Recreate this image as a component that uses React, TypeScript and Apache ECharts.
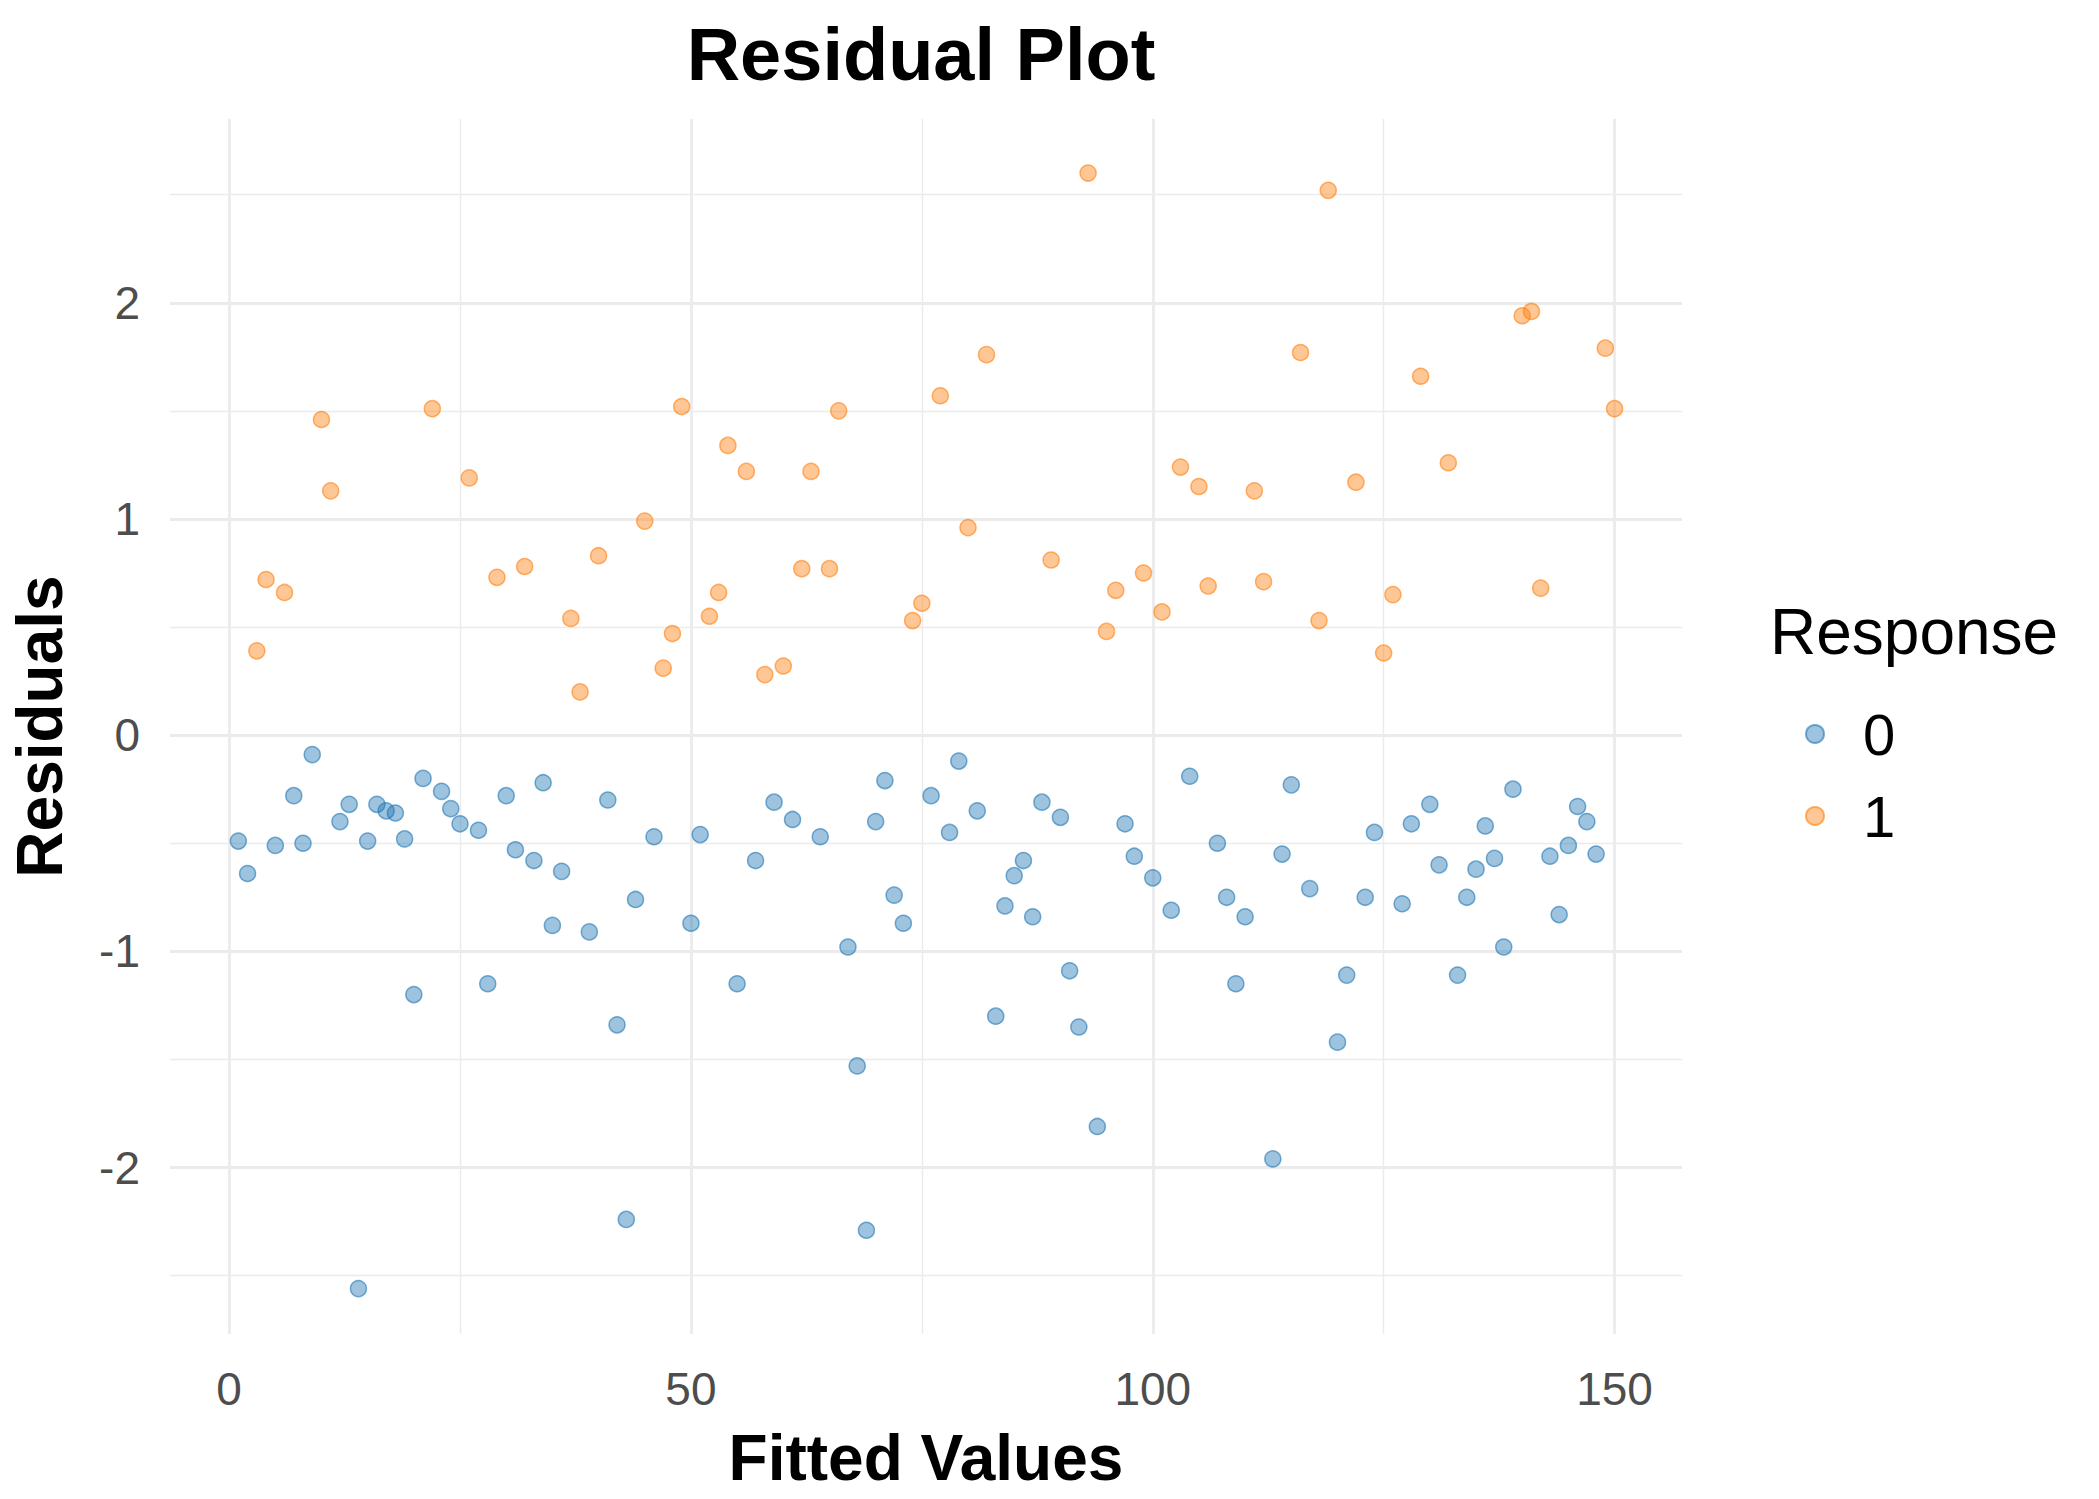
import * as echarts from "echarts";
import { useEffect, useRef } from "react";

// fitted value index 1..150 and its residual; response = 1 when residual > 0
const residuals: number[] = [
  -0.49, -0.64, 0.39, 0.72, -0.51, 0.66, -0.28, -0.5, -0.09, 1.46,
  1.13, -0.4, -0.32, -2.56, -0.49, -0.32, -0.35, -0.36, -0.48, -1.2,
  -0.2, 1.51, -0.26, -0.34, -0.41, 1.19, -0.44, -1.15, 0.73, -0.28,
  -0.53, 0.78, -0.58, -0.22, -0.88, -0.63, 0.54, 0.2, -0.91, 0.83,
  -0.3, -1.34, -2.24, -0.76, 0.99, -0.47, 0.31, 0.47, 1.52, -0.87,
  -0.46, 0.55, 0.66, 1.34, -1.15, 1.22, -0.58, 0.28, -0.31, 0.32,
  -0.39, 0.77, 1.22, -0.47, 0.77, 1.5, -0.98, -1.53, -2.29, -0.4,
  -0.21, -0.74, -0.87, 0.53, 0.61, -0.28, 1.57, -0.45, -0.12, 0.96,
  -0.35, 1.76, -1.3, -0.79, -0.65, -0.58, -0.84, -0.31, 0.81, -0.38,
  -1.09, -1.35, 2.6, -1.81, 0.48, 0.67, -0.41, -0.56, 0.75, -0.66,
  0.57, -0.81, 1.24, -0.19, 1.15, 0.69, -0.5, -0.75, -1.15, -0.84,
  1.13, 0.71, -1.96, -0.55, -0.23, 1.77, -0.71, 0.53, 2.52, -1.42,
  -1.11, 1.17, -0.75, -0.45, 0.38, 0.65, -0.78, -0.41, 1.66, -0.32,
  -0.6, 1.26, -1.11, -0.75, -0.62, -0.42, -0.57, -0.98, -0.25, 1.94,
  1.96, 0.68, -0.56, -0.83, -0.51, -0.33, -0.4, -0.55, 1.79, 1.51,
];

const xMajor = [0, 50, 100, 150];
const xMinor = [25, 75, 125];
const yMajor = [-2, -1, 0, 1, 2];
const yMinor = [-2.5, -1.5, -0.5, 0.5, 1.5, 2.5];

const FONT = "Liberation Sans";
const GRID = "#ebebeb";

export default function App() {
  const ref = useRef<HTMLDivElement>(null);

  useEffect(() => {
    if (!ref.current) return;
    const chart = echarts.init(ref.current, undefined, { renderer: "svg" });

    const pts0: number[][] = [];
    const pts1: number[][] = [];
    residuals.forEach((r, i) => (r > 0 ? pts1 : pts0).push([i + 1, r]));

    const gridLines = [
      ...xMinor.map((v) => ({ xAxis: v, lineStyle: { width: 1.4 } })),
      ...yMinor.map((v) => ({ yAxis: v, lineStyle: { width: 1.4 } })),
      ...xMajor.map((v) => ({ xAxis: v, lineStyle: { width: 2.8 } })),
      ...yMajor.map((v) => ({ yAxis: v, lineStyle: { width: 2.8 } })),
    ];

    chart.setOption({
      animation: false,
      backgroundColor: "#ffffff",
      textStyle: { fontFamily: FONT },
      title: {
        text: "Residual Plot",
        left: 916,
        top: 12,
        textAlign: "center",
        textStyle: { fontSize: 74, fontWeight: "bold", color: "#000", fontFamily: FONT },
      },
      grid: { left: 162, right: 417, top: 119, bottom: 165 },
      xAxis: {
        type: "value",
        min: -6.4,
        max: 157.3,
        name: "Fitted Values",
        nameLocation: "middle",
        nameGap: 92,
        nameTextStyle: { fontSize: 64, fontWeight: "bold", color: "#000" },
        axisLine: { show: false },
        axisTick: { show: false },
        splitLine: { show: false },
        axisLabel: {
          customValues: xMajor,
          fontSize: 46,
          color: "#4d4d4d",
          margin: 32,
        },
      },
      yAxis: {
        type: "value",
        min: -2.77,
        max: 2.85,
        name: "Residuals",
        nameLocation: "middle",
        nameGap: 98,
        nameTextStyle: { fontSize: 64, fontWeight: "bold", color: "#000" },
        axisLine: { show: false },
        axisTick: { show: false },
        splitLine: { show: false },
        axisLabel: {
          customValues: yMajor,
          fontSize: 46,
          color: "#4d4d4d",
          margin: 30,
        },
      },
      legend: {
        orient: "vertical",
        left: 1800,
        top: 700,
        itemGap: 24,
        itemWidth: 18,
        itemHeight: 18,
        textStyle: { fontSize: 58, color: "#000", padding: [0, 0, 0, 34] },
        data: [
          { name: "0", icon: "circle" },
          { name: "1", icon: "circle" },
        ],
      },
      graphic: [
        {
          type: "text",
          left: 1770,
          top: 600,
          style: { text: "Response", fontSize: 64, fill: "#000", fontFamily: FONT },
        },
      ],
      series: [
        {
          type: "scatter",
          name: "grid",
          data: [],
          silent: true,
          markLine: {
            silent: true,
            symbol: "none",
            label: { show: false },
            lineStyle: { color: GRID, type: "solid" },
            data: gridLines,
            z: 0,
          },
        },
        {
          type: "scatter",
          name: "0",
          data: pts0,
          symbolSize: 16,
          itemStyle: {
            color: "rgba(31,119,180,0.55)",
            borderColor: "rgba(31,119,180,0.75)",
            borderWidth: 1.5,
          },
          z: 3,
        },
        {
          type: "scatter",
          name: "1",
          data: pts1,
          symbolSize: 16,
          itemStyle: {
            color: "rgba(255,127,14,0.55)",
            borderColor: "rgba(255,127,14,0.75)",
            borderWidth: 1.5,
          },
          z: 3,
        },
      ],
    });

    return () => chart.dispose();
  }, []);

  return (
    <div
      ref={ref}
      style={{ position: "absolute", left: 0, top: 0, width: 2099, height: 1499 }}
    />
  );
}
